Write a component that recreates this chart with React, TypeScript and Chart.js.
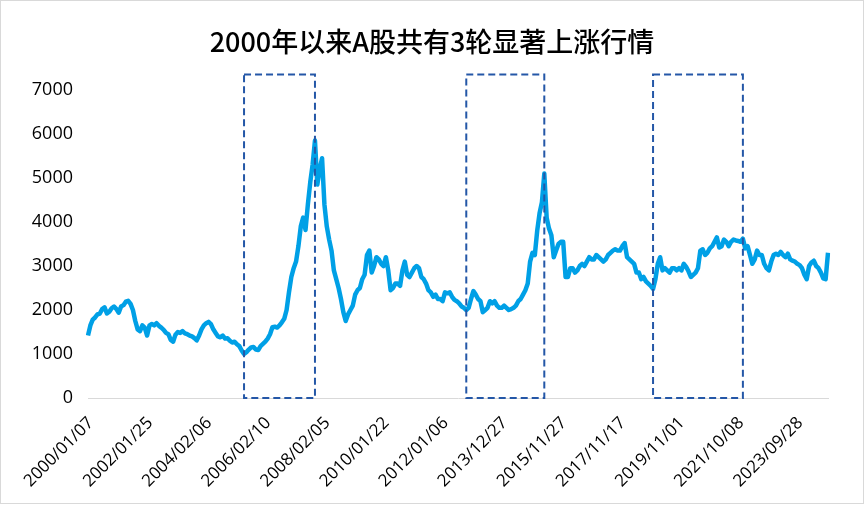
import React, { useEffect, useRef } from "react";
import { Chart, registerables } from "chart.js";

Chart.register(...registerables);

const titleText = "2000年以来A股共有3轮显著上涨行情";

// one tick label every 100 trading weeks
const tickLabels = [
  "2000/01/07", "2002/01/25", "2004/02/06", "2006/02/10", "2008/02/05",
  "2010/01/22", "2012/01/06", "2013/12/27", "2015/11/27", "2017/11/17",
  "2019/11/01", "2021/10/08", "2023/09/28",
];

// one point every 4 trading weeks -> 25 points between tick labels
const pointsPerTick = 25;

const indexValues = [
  // 2000/01 - 2002/01
  1420, 1650, 1780, 1830, 1900, 1920, 2020, 2060, 1920, 1960, 2040, 2080, 2020,
  1940, 2080, 2110, 2190, 2210, 2140, 2000, 1750, 1560, 1520, 1650, 1600,
  // 2002/01 - 2004/02
  1420, 1650, 1680, 1650, 1700, 1640, 1600, 1550, 1480, 1450, 1320, 1280, 1440,
  1500, 1480, 1520, 1470, 1450, 1420, 1400, 1360, 1310, 1420, 1560, 1650,
  // 2004/02 - 2006/02
  1700, 1730, 1680, 1560, 1480, 1400, 1380, 1420, 1350, 1360, 1300, 1260, 1280,
  1220, 1180, 1080, 1000, 1040, 1100, 1150, 1160, 1100, 1090, 1180, 1230,
  // 2006/02 - 2008/02
  1280, 1350, 1450, 1610, 1620, 1600, 1650, 1720, 1800, 2000, 2400, 2750, 2950,
  3100, 3450, 3900, 4100, 3820, 4400, 4900, 5300, 5850, 4850, 5200, 5450,
  // 2008/02 - 2010/01
  4400, 3900, 3600, 3350, 2900, 2700, 2500, 2250, 1950, 1750, 1900, 2000, 2100,
  2350, 2450, 2500, 2700, 2800, 3250, 3350, 2850, 3000, 3200, 3150, 3050,
  // 2010/01 - 2012/01
  3000, 3200, 2900, 2450, 2500, 2600, 2600, 2550, 2900, 3100, 2800, 2750, 2850,
  2950, 3000, 2950, 2750, 2700, 2600, 2450, 2400, 2300, 2350, 2250, 2250,
  // 2012/01 - 2013/12
  2200, 2400, 2380, 2400, 2300, 2230, 2200, 2150, 2080, 2050, 2000, 2050, 2250,
  2430, 2350, 2250, 2200, 1950, 2000, 2050, 2200, 2150, 2200, 2100, 2050,
  // 2013/12 - 2015/11
  2050, 2100, 2050, 2000, 2020, 2050, 2100, 2200, 2250, 2350, 2450, 2600, 3100,
  3300, 3250, 3800, 4200, 4450, 5100, 4100, 3850, 3700, 3200, 3350, 3500,
  // 2015/11 - 2017/11
  3550, 3550, 2750, 2750, 2950, 2950, 2850, 2900, 3000, 3050, 3000, 3100, 3200,
  3150, 3150, 3250, 3200, 3150, 3100, 3150, 3250, 3300, 3350, 3380, 3350,
  // 2017/11 - 2019/11
  3350, 3450, 3520, 3200, 3150, 3100, 3050, 2850, 2850, 2700, 2750, 2650, 2600,
  2550, 2480, 2700, 3050, 3200, 2900, 2950, 2900, 2850, 2950, 2950, 2900,
  // 2019/11 - 2021/10
  2950, 2900, 3050, 2980, 2880, 2750, 2800, 2850, 2950, 3350, 3380, 3250, 3300,
  3400, 3450, 3550, 3650, 3420, 3450, 3600, 3550, 3450, 3550, 3600, 3580,
  // 2021/10 - 2023/09
  3570, 3550, 3620, 3400, 3450, 3250, 3050, 3150, 3350, 3250, 3250, 3050, 2950,
  2900, 3100, 3250, 3280, 3250, 3320, 3250, 3200, 3280, 3150, 3120, 3100,
  // 2023/09 - 2024/10
  3050, 3020, 2950, 2800, 2700, 3000, 3080, 3120, 3000, 2950, 2850, 2720, 2700,
  3300,
];

// the three rallies: first and last data point of each marked period
const rallyStart = [66, 160, 239];
const rallyEnd = [96, 193, 277];
const rallyTop = 7350;

const yMin = 0;
const yMax = 7000;
const yStep = 1000;

const categories = indexValues.map((_, i) =>
  i % pointsPerTick === 0 ? tickLabels[i / pointsPerTick] ?? "" : ""
);

const rallyBoxes = {
  id: "rallyBoxes",
  afterDatasetsDraw(chart: any) {
    const { ctx } = chart;
    const x = chart.scales.x;
    const y = chart.scales.y;
    ctx.save();
    ctx.strokeStyle = "#2457A7";
    ctx.lineWidth = 2;
    ctx.setLineDash([7, 4]);
    rallyStart.forEach((s, i) => {
      const left = x.getPixelForValue(s);
      const right = x.getPixelForValue(rallyEnd[i]);
      const top = y.getPixelForValue(rallyTop);
      const bottom = y.getPixelForValue(0);
      ctx.strokeRect(left, top, right - left, bottom - top);
    });
    ctx.restore();
  },
};

export default function App() {
  const canvasRef = useRef<HTMLCanvasElement | null>(null);

  useEffect(() => {
    document.body.style.margin = "0";
    const canvas = canvasRef.current;
    if (!canvas) return;
    const fontFamily = "'Open Sans', 'Noto Sans', sans-serif";
    const chart = new Chart(canvas, {
      type: "line",
      data: {
        labels: categories,
        datasets: [
          {
            data: indexValues,
            borderColor: "#00A0E6",
            borderWidth: 4.5,
            pointRadius: 0,
            pointHoverRadius: 0,
            tension: 0,
            borderJoinStyle: "round",
            fill: false,
            yAxisID: "y",
          },
        ],
      },
      options: {
        animation: false,
        responsive: true,
        maintainAspectRatio: false,
        layout: { padding: 0 },
        plugins: {
          legend: { display: false },
          tooltip: { enabled: false },
          title: {
            display: true,
            text: titleText,
            color: "#000",
            font: { family: "'Noto Sans CJK SC', sans-serif", size: 27, weight: "500" as any, lineHeight: 1.2 },
            padding: { top: 25, bottom: 31.6 },
          },
        },
        scales: {
          x: {
            type: "category",
            offset: false,
            grid: { display: false, drawTicks: false },
            border: { display: true, color: "#D9D9D9", width: 1 },
            ticks: {
              autoSkip: false,
              maxRotation: 45,
              minRotation: 45,
              padding: 15,
              labelOffset: 3,
              color: "#000",
              font: { family: fontFamily, size: 17 },
              callback: (_v: any, i: number) => categories[i],
            },
            afterFit: (scale: any) => {
              scale.height = 105;
            },
          },
          y: {
            min: yMin,
            max: yMax,
            grid: { display: false, drawTicks: false },
            border: { display: false },
            ticks: {
              stepSize: yStep,
              padding: 15,
              color: "#000",
              font: { family: fontFamily, size: 18 },
              callback: (v: any) => String(v),
            },
            afterFit: (scale: any) => {
              scale.width = 87;
            },
          },
          yRight: {
            position: "right",
            min: yMin,
            max: yMax,
            grid: { display: false, drawTicks: false },
            border: { display: false },
            ticks: { display: false },
            afterFit: (scale: any) => {
              scale.width = 35;
            },
          },
        },
      },
      plugins: [rallyBoxes],
    });
    return () => chart.destroy();
  }, []);

  return (
    <div
      style={{
        width: 864,
        height: 504,
        border: "1px solid #D9D9D9",
        boxSizing: "border-box",
        position: "relative",
        background: "#fff",
      }}
    >
      <div style={{ position: "absolute", left: 0, top: 0, width: 862, height: 502 }}>
        <canvas ref={canvasRef} />
      </div>
    </div>
  );
}
